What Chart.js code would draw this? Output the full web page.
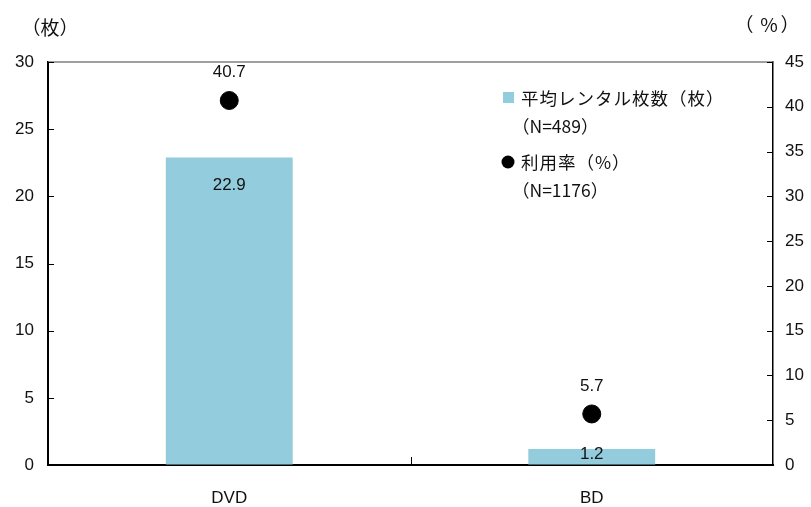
<!DOCTYPE html>
<html>
<head>
<meta charset="utf-8">
<script src="https://cdn.jsdelivr.net/npm/chart.js@4"></script>
<style>
  body { margin: 0; background: #fff; }
  #wrap { width: 811px; height: 507px; }
</style>
</head>
<body>
<div id="wrap"><canvas id="rentalChart" width="811" height="507"></canvas></div>
<script>
var categories = ["DVD", "BD"];
var rentalCounts = [22.9, 1.2];   // 平均レンタル枚数（枚）
var usageRates = [40.7, 5.7];     // 利用率（%）
var leftTicks = [0, 5, 10, 15, 20, 25, 30];
var rightTicks = [0, 5, 10, 15, 20, 25, 30, 35, 40, 45];
var barLegend = ["平均レンタル枚数（枚）", "（N=489）"];
var pointLegend = ["利用率（%）", "（N=1176）"];

var numFont = "'Liberation Sans', Arial, sans-serif";
var jpFont = "'Noto Sans CJK JP', sans-serif";
var barColor = "#93CDDD";

Chart.defaults.font.family = numFont;
Chart.defaults.font.size = 17;
Chart.defaults.color = "#111";

var extras = {
  id: "extras",
  afterDraw: function(chart) {
    var ctx = chart.ctx;
    var a = chart.chartArea;
    var y = chart.scales.y, y1 = chart.scales.y1;
    ctx.save();
    // top frame line
    ctx.strokeStyle = "#7f7f7f";
    ctx.lineWidth = 1.5;
    ctx.beginPath();
    ctx.moveTo(a.left, a.top);
    ctx.lineTo(a.right, a.top);
    ctx.stroke();
    // inward ticks
    ctx.strokeStyle = "#000";
    ctx.lineWidth = 1;
    ctx.beginPath();
    leftTicks.forEach(function(v) {
      var py = Math.round(y.getPixelForValue(v)) + 0.5;
      ctx.moveTo(a.left, py); ctx.lineTo(a.left + 6, py);
    });
    rightTicks.forEach(function(v) {
      var py = Math.round(y1.getPixelForValue(v)) + 0.5;
      ctx.moveTo(a.right - 6, py); ctx.lineTo(a.right, py);
    });
    var mid = Math.round((a.left + a.right) / 2) + 0.5;
    ctx.moveTo(mid, a.bottom); ctx.lineTo(mid, a.bottom - 8);
    ctx.stroke();

    // value labels
    ctx.fillStyle = "#111";
    ctx.font = "17px " + numFont;
    ctx.textAlign = "center";
    ctx.textBaseline = "middle";
    chart.getDatasetMeta(1).data.forEach(function(bar, i) {
      var ly = Math.min(bar.y + 28, bar.base - 10);
      ctx.fillText(rentalCounts[i].toFixed(1), bar.x, ly);
    });
    chart.getDatasetMeta(0).data.forEach(function(pt, i) {
      ctx.fillText(usageRates[i].toFixed(1), pt.x, pt.y - 28);
    });

    // axis titles
    ctx.font = "19px " + jpFont;
    ctx.fillText("（枚）", 50, 28);
    ctx.fillText("（", 744, 25);
    ctx.fillText("%", 769, 25);
    ctx.fillText("）", 790, 25);

    // legend
    ctx.textAlign = "left";
    ctx.fillStyle = barColor;
    ctx.fillRect(503, 92, 11, 11);
    ctx.fillStyle = "#000";
    ctx.beginPath();
    ctx.arc(508, 162, 6.5, 0, Math.PI * 2);
    ctx.fill();
    ctx.fillStyle = "#111";
    ctx.font = "17.5px " + jpFont;
    ctx.letterSpacing = "1px";
    ctx.fillText(barLegend[0], 521, 98);
    ctx.fillText(pointLegend[0], 521, 162);
    ctx.letterSpacing = "0px";
    ctx.fillText(barLegend[1], 512, 126);
    ctx.fillText(pointLegend[1], 512, 190);
    ctx.restore();
  }
};

var rentalChart = new Chart(document.getElementById("rentalChart"), {
  type: "bar",
  data: {
    labels: categories,
    datasets: [{
      type: "line",
      label: "利用率（%）",
      data: usageRates,
      yAxisID: "y1",
      showLine: false,
      pointRadius: 9,
      pointHoverRadius: 9,
      pointBackgroundColor: "#000",
      pointBorderColor: "#000",
      order: 0
    }, {
      type: "bar",
      label: "平均レンタル枚数（枚）",
      data: rentalCounts,
      yAxisID: "y",
      backgroundColor: barColor,
      barPercentage: 0.35,
      categoryPercentage: 1.0,
      order: 1
    }]
  },
  options: {
    responsive: false,
    animation: false,
    layout: { padding: { top: 62, left: 0, right: 0, bottom: 0 } },
    plugins: {
      legend: { display: false },
      tooltip: { enabled: false }
    },
    scales: {
      x: {
        offset: true,
        grid: { drawOnChartArea: false, drawTicks: false },
        border: { color: "#000", width: 2 },
        ticks: { padding: 23, color: "#111" },
        afterFit: function(s) { s.height = 42; }
      },
      y: {
        position: "left",
        min: 0, max: 30,
        ticks: { stepSize: 5, padding: 14, color: "#111" },
        grid: { drawOnChartArea: false, drawTicks: false },
        border: { color: "#000", width: 2 },
        afterFit: function(s) { s.width = 48; }
      },
      y1: {
        position: "right",
        min: 0, max: 45,
        ticks: { stepSize: 5, padding: 12, color: "#111" },
        grid: { drawOnChartArea: false, drawTicks: false },
        border: { color: "#000", width: 1.5 },
        afterFit: function(s) { s.width = 38; }
      }
    }
  },
  plugins: [extras]
});
</script>
</body>
</html>
